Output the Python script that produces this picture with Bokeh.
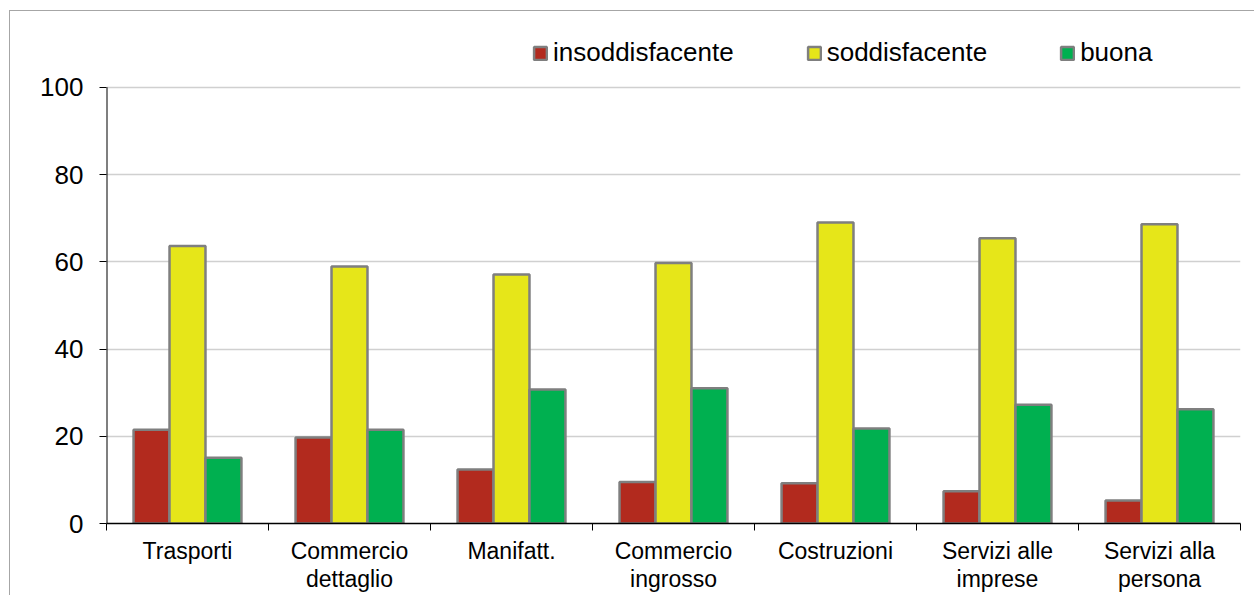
from bokeh.plotting import figure
from bokeh.models import Range1d, FixedTicker, Legend, LegendItem
from bokeh.embed import file_html
from bokeh.resources import INLINE

# ---- data ----
categories = ["Trasporti", "Commercio\ndettaglio", "Manifatt.", "Commercio\ningrosso",
              "Costruzioni", "Servizi alle\nimprese", "Servizi alla\npersona"]
insoddisfacente = [21.5, 19.7, 12.4, 9.5, 9.2, 7.4, 5.3]
soddisfacente = [63.6, 58.9, 57.1, 59.7, 69.0, 65.4, 68.6]
buona = [15.1, 21.5, 30.7, 31.0, 21.8, 27.2, 26.2]
series_names = ["insoddisfacente", "soddisfacente", "buona"]
series_colors = ["#B22A1E", "#E6E619", "#00B050"]
y_ticks = [0, 20, 40, 60, 80, 100]

FONT = "Liberation Sans"
n = len(categories)
centers = [i + 0.5 for i in range(n)]
bounds = list(range(n + 1))
bar_w = 0.222
offsets = [-bar_w, 0.0, bar_w]

# frame reaches up to the top so the legend can live inside it;
# the value axis itself stops at 100 (87px from top), frame top at 11px
y_axis_max = y_ticks[-1]
y_range_max = y_axis_max * (524 - 11) / (524 - 87)

p = figure(width=1254, height=595, x_range=Range1d(0, n), y_range=Range1d(0, y_range_max),
           output_backend="svg", toolbar_location=None,
           min_border_left=106, min_border_right=14, min_border_top=11, min_border_bottom=71)
p.border_fill_alpha = 0
p.background_fill_alpha = 0
p.outline_line_color = None
p.styles = {"background": "linear-gradient(#a6a6a6, #a6a6a6) 9px 10px / 100% 1px no-repeat, "
                          "linear-gradient(#a6a6a6, #a6a6a6) 9px 10px / 1px 100% no-repeat, white"}

renderers = []
for vals, name, col, off in zip([insoddisfacente, soddisfacente, buona], series_names, series_colors, offsets):
    r = p.vbar(x=[c + off for c in centers], top=vals, bottom=0, width=bar_w,
               fill_color=col, line_color="#7f7f7f", line_width=2.5)
    renderers.append(r)

# grid
p.xgrid.grid_line_color = None
p.ygrid.ticker = FixedTicker(ticks=y_ticks[1:])
p.ygrid.grid_line_color = "#d0d0d0"
p.ygrid.grid_line_width = 1.5
p.ygrid.level = "underlay"

# y axis (line drawn only from 0 to 100)
p.yaxis.ticker = FixedTicker(ticks=y_ticks)
p.yaxis.axis_line_color = None
p.segment(x0=[0], y0=[0], x1=[0], y1=[y_axis_max], line_color="black", line_width=2)
p.yaxis.major_tick_out = 7
p.yaxis.major_tick_in = 0
p.yaxis.minor_tick_line_color = None
p.yaxis.major_tick_line_color = "black"
p.yaxis.major_label_text_font = FONT
p.yaxis.major_label_text_font_size = "26px"
p.yaxis.major_label_text_color = "black"
p.yaxis.major_label_standoff = 16

# x axis: labels at centers, ticks at boundaries
p.xaxis.ticker = FixedTicker(ticks=centers, minor_ticks=bounds)
p.xaxis.major_label_overrides = {c: lab for c, lab in zip(centers, categories)}
p.xaxis.major_tick_line_color = None
p.xaxis.major_tick_out = 0
p.xaxis.major_tick_in = 0
p.xaxis.minor_tick_out = 7
p.xaxis.minor_tick_in = 0
p.xaxis.minor_tick_line_color = "black"
p.xaxis.axis_line_color = "black"
p.xaxis.axis_line_width = 1.5
p.xaxis.major_label_text_font = FONT
p.xaxis.major_label_text_font_size = "23px"
p.xaxis.major_label_text_color = "black"
p.xaxis.major_label_text_line_height = 1.1
p.xaxis.major_label_standoff = 7

legend = Legend(items=[LegendItem(label=nm, renderers=[r]) for nm, r in zip(series_names, renderers)],
                orientation="horizontal", location=(426, 455), padding=0, margin=0,
                spacing=72, label_standoff=5, glyph_width=16, glyph_height=16,
                label_text_font=FONT, label_text_font_size="26px", label_text_color="black",
                border_line_color=None, background_fill_alpha=0)
p.add_layout(legend)

open("out.html", "w").write(file_html(p, INLINE))
